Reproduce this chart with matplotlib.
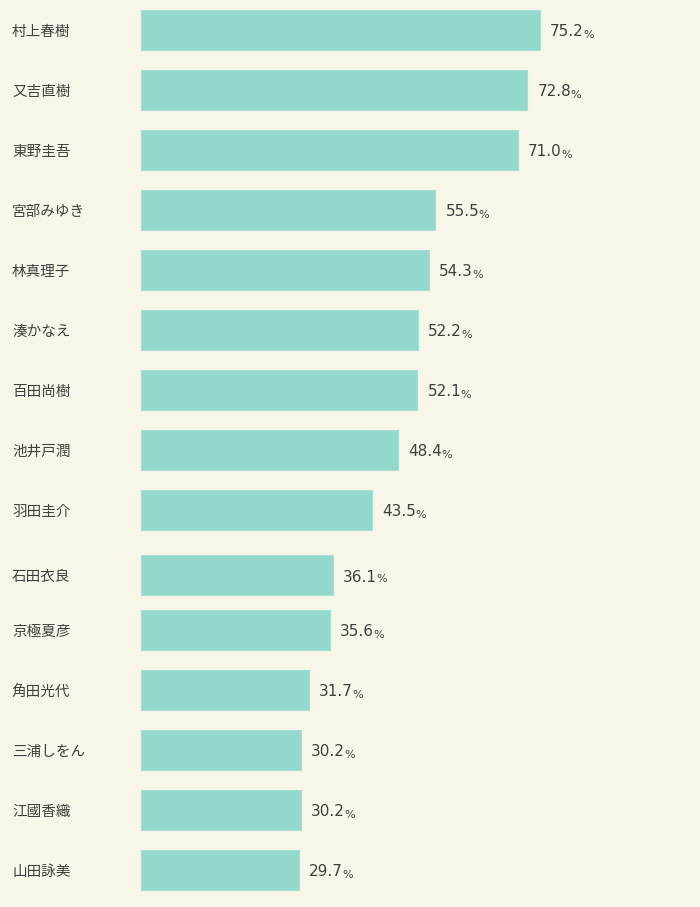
import matplotlib
matplotlib.use('Agg')
import matplotlib.pyplot as plt

names = ['村上春樹', '又吉直樹', '東野圭吾', '宮部みゆき', '林真理子', '湊かなえ', '百田尚樹',
         '池井戸潤', '羽田圭介', '石田衣良', '京極夏彦', '角田光代', '三浦しをん', '江國香織', '山田詠美']
values = [75.2, 72.8, 71.0, 55.5, 54.3, 52.2, 52.1, 48.4, 43.5, 36.1, 35.6, 31.7, 30.2, 30.2, 29.7]

bg = '#f8f5e9'
bar_color = '#93d9cb'
text_color = '#404040'

# bar centres in pixels from the top (the original has a small jump after the 9th bar)
ypos = [30 + 60 * i for i in range(9)] + [575] + [630 + 60 * i for i in range(5)]

fig = plt.figure(figsize=(7, 9.07), dpi=100, facecolor=bg)
ax = fig.add_axes([0, 0, 1, 1])
ax.set_facecolor(bg)

px = 5.306  # pixels per percent
ax.set_xlim(-141 / px, (700 - 141) / px)
ax.set_ylim(907, 0)

ax.barh(ypos, values, height=40, color=bar_color, edgecolor='#a6e0d4', linewidth=0.8)

for y, name, v in zip(ypos, names, values):
    ax.text(-129 / px, y + 2, name, ha='left', va='center', fontsize=10.5, color=text_color,
            family=['Noto Sans CJK JP', 'DejaVu Sans'])
    t = ax.text(v + 10 / px, y + 2, f'{v:.1f}', ha='left', va='center', fontsize=11,
                color=text_color, family='DejaVu Sans')
    ax.annotate('%', xy=(1, 0), xycoords=t, xytext=(-0.3, 0), textcoords='offset points',
                ha='left', va='bottom', fontsize=8, color=text_color, family='DejaVu Sans')

ax.axis('off')
fig.savefig('out.png', dpi=100, facecolor=bg)
